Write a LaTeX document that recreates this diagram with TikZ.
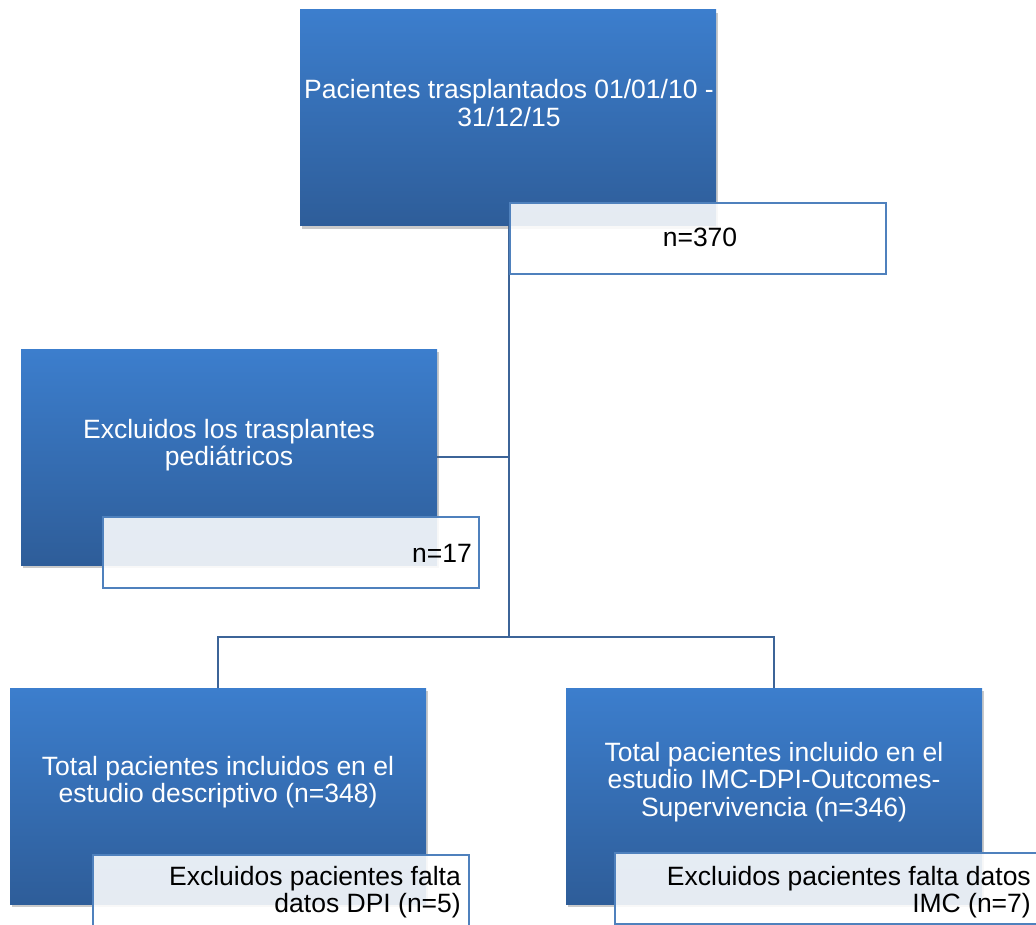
\documentclass[tikz,border=0pt]{standalone}
\usepackage{fontspec}
\setmainfont{Liberation Sans}
\usetikzlibrary{shadows,backgrounds}
\definecolor{btop}{RGB}{60,126,205}
\definecolor{bbot}{RGB}{46,93,153}
\definecolor{subline}{RGB}{79,129,189}
\definecolor{conn}{RGB}{60,100,152}
\begin{document}
\begin{tikzpicture}[x=1pt,y=-1pt,
  mainbox/.style={rectangle, inner sep=0pt, outer sep=0pt, draw=none,
    top color=btop, bottom color=bbot, minimum width=416pt, minimum height=216pt,
    drop shadow={shadow xshift=2pt, shadow yshift=-3pt, opacity=0.35, fill=black!60}},
  subbox/.style={rectangle, inner sep=0pt, outer sep=0pt, draw=subline, line width=1.8pt,
    fill=white, fill opacity=0.88, minimum width=376pt, minimum height=71pt},
  wtxt/.style={font=\fontsize{26.5}{27.5}\selectfont, inner sep=0pt, align=center, text=white},
  btxt/.style={font=\fontsize{26.5}{27.5}\selectfont, inner sep=0pt, align=right, text=black},
  connline/.style={draw=conn, line width=1.6pt}]
\clip (0,0) rectangle (1036,925);
\useasboundingbox (0,0) rectangle (1036,925);

% main boxes and their count boxes
\node[mainbox] (top) at (508,118) {};
\node[subbox] (n370) at (698,238.5) {};
\node[mainbox] (left) at (229,457) {};
\node[subbox] (n17) at (291,552.5) {};
\node[mainbox] (bl) at (218,796) {};
\node[subbox] (bls) at (281,890.5) {};
\node[mainbox] (br) at (774,796) {};
\node[subbox, minimum width=425pt] (brs) at (827.5,888.5) {};

% texts
\node[wtxt] (toptxt) at (509,103) {Pacientes trasplantados 01/01/10 -\\31/12/15};
\node[btxt, anchor=base] (n370txt) at (700,247) {n=370};
\node[wtxt] (lefttxt) at (229,445) {Excluidos los trasplantes\\pediátricos};
\node[btxt, anchor=base east] (n17txt) at (472,562) {n=17};
\node[wtxt] (bltxt) at (218,782) {Total pacientes incluidos en el\\estudio descriptivo (n=348)};
\node[btxt, anchor=north east] (blstxt) at (461,866) {Excluidos pacientes falta\\datos DPI (n=5)};
\node[wtxt] (brtxt) at (774,782) {Total pacientes incluido en el\\estudio IMC-DPI-Outcomes-\\Supervivencia (n=346)};
\node[btxt, anchor=north east] (brstxt) at (1031,866) {Excluidos pacientes falta datos\\IMC (n=7)};

% connectors
\coordinate (split) at (509,637);
\begin{scope}[on background layer]
\draw[connline] (top.south -| split) -- (split);
\draw[connline] (left.east) -- (left.east -| split);
\draw[connline] (bl.north) -- (bl.north |- split) -- (br.north |- split) -- (br.north);
\end{scope}
\end{tikzpicture}
\end{document}
